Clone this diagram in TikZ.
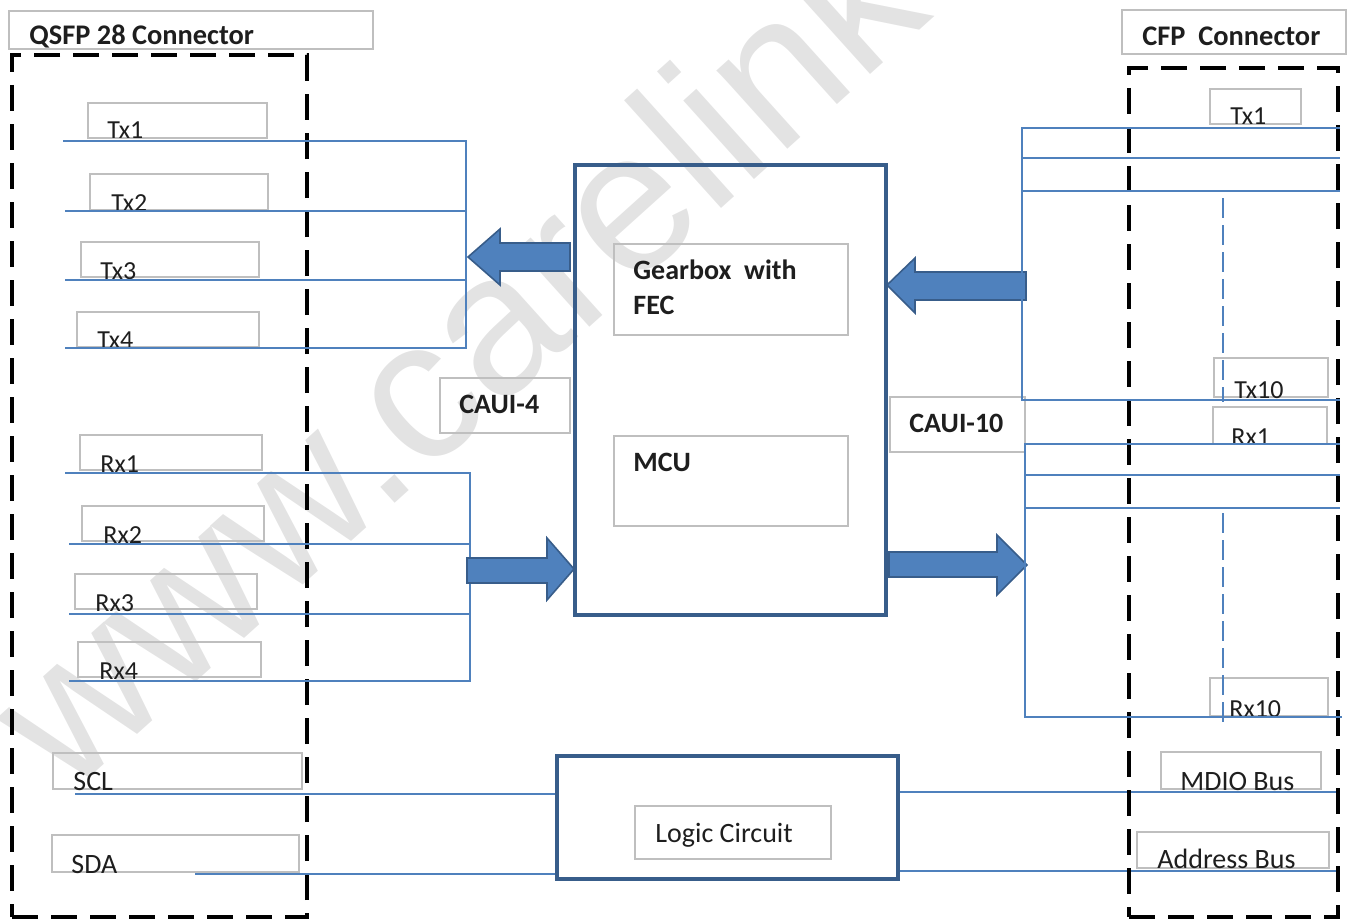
\documentclass[tikz,border=0pt]{standalone}
\usepackage{fontspec}
\setmainfont{Carlito}
\newfontfamily\wmfont{Liberation Sans}
\usetikzlibrary{fit}
\definecolor{lineblue}{HTML}{4F81BD}
\definecolor{edgeblue}{HTML}{385D8A}
\definecolor{boxgray}{HTML}{BFBFBF}
\definecolor{txt}{HTML}{1E1E1E}
\definecolor{wmgray}{HTML}{E3E3E3}
\begin{document}
\begin{tikzpicture}[x=0.5pt,y=-0.5pt,
  gbox/.style={draw=boxgray, line width=0.6pt, inner sep=0pt},
  lbl/.style={anchor=base west, inner sep=0pt, font=\fontsize{13}{15}\selectfont, text=txt},
  rlbl/.style={anchor=base west, inner sep=0pt, font=\fontsize{14}{16}\selectfont, text=txt},
  blbl/.style={anchor=base west, inner sep=0pt, font=\fontsize{14}{16}\selectfont\bfseries, text=txt},
  hlbl/.style={anchor=base west, inner sep=0pt, font=\fontsize{14.2}{16}\selectfont\bfseries, text=txt},
  bus/.style={draw=lineblue, line width=0.7pt},
  conn/.style={draw=black, line width=2pt, dash pattern=on 13pt off 6.5pt, inner sep=0pt},
  mainbox/.style={draw=edgeblue, line width=2pt, inner sep=0pt},
  barrow/.style={fill=lineblue, draw=edgeblue, line width=0.8pt, line join=miter},
  vdash/.style={draw=lineblue, line width=0.6pt, dash pattern=on 10pt off 3.5pt}]
\useasboundingbox (0,0) rectangle (1348,920);

% watermark
\begin{scope}
\clip (0,0) rectangle (1348,920);
\node[anchor=base west, inner sep=0pt, rotate=42, text=wmgray,
      font=\wmfont\fontsize{100}{104}\selectfont] (wm) at (67,798) {www.carelink};
\end{scope}

% ---------- left connector ----------
\node[gbox, fit={(9,11)(373,49)}] (qhead) {};
\node[hlbl] (qheadt) at (29,45) {QSFP 28 Connector};
\node[conn, fit={(12,55)(307,917)}] (qsfp) {};

\node[gbox, fit={(88,103)(267,138)}] (btx1) {};
\node[gbox, fit={(90,174)(268,210)}] (btx2) {};
\node[gbox, fit={(81,242)(259,277)}] (btx3) {};
\node[gbox, fit={(77,312)(259,347)}] (btx4) {};
\node[lbl] (ltx1) at (107,139) {Tx1};
\node[lbl] (ltx2) at (111,211) {Tx2};
\node[lbl] (ltx3) at (100,279) {Tx3};
\node[lbl] (ltx4) at (97,348) {Tx4};

\node[gbox, fit={(80,435)(262,470)}] (brx1) {};
\node[gbox, fit={(82,506)(264,541)}] (brx2) {};
\node[gbox, fit={(75,574)(257,609)}] (brx3) {};
\node[gbox, fit={(78,642)(261,677)}] (brx4) {};
\node[lbl] (lrx1) at (100,472) {Rx1};
\node[lbl] (lrx2) at (103,543) {Rx2};
\node[lbl] (lrx3) at (95,611) {Rx3};
\node[lbl] (lrx4) at (99,679) {Rx4};

\node[gbox, fit={(53,753)(302,789)}] (bscl) {};
\node[gbox, fit={(52,835)(299,872)}] (bsda) {};
\node[rlbl] (lscl) at (73,790) {SCL};
\node[rlbl] (lsda) at (71,873) {SDA};

% left buses
\path (63,141) coordinate (tx1L) (466,141) coordinate (tx1R)
      (65,211) coordinate (tx2L) (466,211) coordinate (tx2R)
      (65,280) coordinate (tx3L) (466,280) coordinate (tx3R)
      (65,348) coordinate (tx4L) (466,348) coordinate (tx4R);
\draw[bus] (tx1L) -- (tx1R) -- (tx4R) -- (tx4L);
\draw[bus] (tx2L) -- (tx2R);
\draw[bus] (tx3L) -- (tx3R);

\path (65,473) coordinate (rx1L) (470,473) coordinate (rx1R)
      (69,544) coordinate (rx2L) (470,544) coordinate (rx2R)
      (69,614) coordinate (rx3L) (470,614) coordinate (rx3R)
      (69,681) coordinate (rx4L) (470,681) coordinate (rx4R);
\draw[bus] (rx1L) -- (rx1R) -- (rx4R) -- (rx4L);
\draw[bus] (rx2L) -- (rx2R);
\draw[bus] (rx3L) -- (rx3R);

% ---------- centre ----------
\node[mainbox, fit={(575,165)(886,615)}] (core) {};
\node[gbox, fit={(614,244)(848,335)}] (gear) {};
\node[blbl] (gear1) at (633,279) {Gearbox\ \ with};
\node[blbl] (gear2) at (633,314) {FEC};
\node[gbox, fit={(614,436)(848,526)}] (mcu) {};
\node[blbl] (mcut) at (633,471) {MCU};

\node[gbox, fit={(440,378)(570,433)}] (caui4) {};
\node[blbl] (caui4t) at (459,413) {CAUI-4};
\node[gbox, fit={(890,397)(1025,452)}] (caui10) {};
\node[blbl] (caui10t) at (909,432) {CAUI-10};

% block arrows
\draw[barrow] (570,243) -- (500,243) -- (500,229) -- (468,257) -- (500,285) -- (500,271) -- (570,271) -- cycle;
\draw[barrow] (467,558) -- (547,558) -- (547,538) -- (574,569) -- (547,600) -- (547,583) -- (467,583) -- cycle;
\draw[barrow] (1026,272) -- (915,272) -- (915,258) -- (887,285) -- (915,313) -- (915,300) -- (1026,300) -- cycle;
\draw[barrow] (889,552) -- (997,552) -- (997,535) -- (1027,565) -- (997,595) -- (997,577) -- (889,577) -- cycle;

% logic circuit
\node[mainbox, fit={(557,756)(898,879)}] (logic) {};
\node[gbox, fit={(635,806)(831,859)}] (logicin) {};
\node[rlbl] (logict) at (655,842) {Logic Circuit};

\path (75,794) coordinate (sclL) (195,874) coordinate (sdaL)
      (1340,792) coordinate (mdioR) (1340,871) coordinate (addrR);
\draw[bus] (sclL) -- (logic.west |- sclL);
\draw[bus] (sdaL) -- (logic.west |- sdaL);
\draw[bus] (logic.east |- mdioR) -- (mdioR);
\draw[bus] (logic.east |- addrR) -- (addrR);

% ---------- right connector ----------
\node[gbox, fit={(1122,10)(1346,54)}] (chead) {};
\node[hlbl] (cheadt) at (1142,46) {CFP\ \ Connector};
\node[conn, fit={(1129,68)(1338,917)}] (cfp) {};

\node[gbox, fit={(1210,89)(1301,124)}] (ctx1) {};
\node[gbox, fit={(1214,358)(1328,397)}] (ctx10) {};
\node[gbox, fit={(1213,407)(1327,444)}] (crx1) {};
\node[gbox, fit={(1210,678)(1328,716)}] (crx10) {};
\node[gbox, fit={(1161,752)(1321,789)}] (cmdio) {};
\node[gbox, fit={(1137,832)(1329,868)}] (caddr) {};
\node[lbl] (rtx1) at (1230,125) {Tx1};
\node[lbl] (rtx10) at (1234,398) {Tx10};
\node[lbl] (rrx1) at (1231,445) {Rx1};
\node[lbl] (rrx10) at (1229,717) {Rx10};
\node[rlbl] (rmdio) at (1180,790) {MDIO Bus};
\node[rlbl] (raddr) at (1157,868) {Address Bus};

\path (1022,128) coordinate (c1L) (1340,128) coordinate (c1R)
      (1022,158) coordinate (c2L) (1340,158) coordinate (c2R)
      (1022,191) coordinate (c3L) (1340,191) coordinate (c3R)
      (1022,400) coordinate (c10L) (1340,400) coordinate (c10R);
\draw[bus] (c1R) -- (c1L) -- (c10L) -- (c10R);
\draw[bus] (c2L) -- (c2R);
\draw[bus] (c3L) -- (c3R);

\path (1025,444) coordinate (d1L) (1340,444) coordinate (d1R)
      (1025,475) coordinate (d2L) (1340,475) coordinate (d2R)
      (1025,508) coordinate (d3L) (1340,508) coordinate (d3R)
      (1025,717) coordinate (d10L) (1342,717) coordinate (d10R);
\draw[bus] (d1R) -- (d1L) -- (d10L) -- (d10R);
\draw[bus] (d2L) -- (d2R);
\draw[bus] (d3L) -- (d3R);

\path (1223,198) coordinate (vt1) (1223,402) coordinate (vt2)
      (1223,513) coordinate (vr1) (1223,722) coordinate (vr2);
\draw[vdash] (vt1) -- (vt2);
\draw[vdash] (vr1) -- (vr2);
\end{tikzpicture}
\end{document}
